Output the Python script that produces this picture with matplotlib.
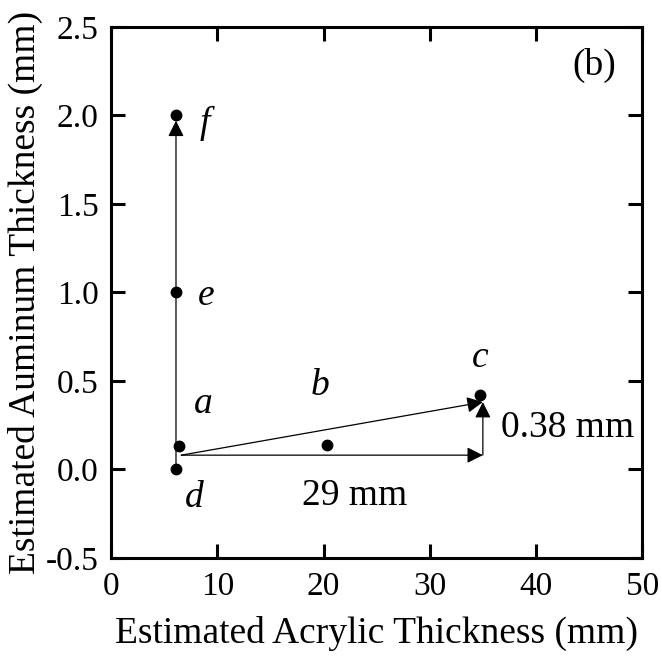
import matplotlib
matplotlib.use("Agg")
import matplotlib.pyplot as plt

plt.rcParams['font.family'] = ['Liberation Serif', 'DejaVu Serif']

# measured points (acrylic mm, aluminum mm)
labels = ['a', 'b', 'c', 'd', 'e', 'f']
acrylic = [6.4, 20.3, 34.7, 6.1, 6.1, 6.1]
aluminum = [0.13, 0.14, 0.42, 0.0, 1.0, 2.0]

# where the letter labels sit (baseline)
label_x = [8.7, 19.7, 34.7, 7.8, 8.9, 8.8]
label_y = [0.32, 0.42, 0.58, -0.215, 0.93, 1.90]

# arrows: (start, end)
arrows = [
    ((6.1, 0.0), (6.1, 1.97)),
    ((6.6, 0.08), (35.0, 0.08)),
    ((6.6, 0.08), (35.0, 0.38)),
    ((35.0, 0.08), (35.0, 0.38)),
]

xticks = [0, 10, 20, 30, 40, 50]
yticks = [-0.5, 0.0, 0.5, 1.0, 1.5, 2.0, 2.5]
ytick_labels = ['-0.5', '0.0', '0.5', '1.0', '1.5', '2.0', '2.5']

fig = plt.figure(figsize=(6.62, 6.57), dpi=100)
ax = fig.add_axes([0.168, 0.151, 0.802, 0.808])

for (x0, y0), (x1, y1) in arrows:
    ax.annotate('', xy=(x1, y1), xytext=(x0, y0),
                arrowprops=dict(arrowstyle='-|>', color='black', lw=0.9,
                                mutation_scale=24, shrinkA=0, shrinkB=0))

ax.plot(acrylic, aluminum, 'o', color='black', ms=7.5, zorder=5)

for lab, x, y in zip(labels, label_x, label_y):
    ax.text(x, y, lab, fontsize=27, style='italic', ha='center', va='baseline')

ax.text(22.9, -0.203, '29 mm', fontsize=27, ha='center', va='baseline')
ax.text(43.0, 0.184, '0.38 mm', fontsize=27, ha='center', va='baseline')
ax.text(45.5, 2.23, '(b)', fontsize=27, ha='center', va='baseline')

ax.set_xlim(0, 50)
ax.set_ylim(-0.5, 2.5)
ax.set_xticks(xticks)
ax.set_yticks(yticks)
ax.set_yticklabels(ytick_labels)
ax.tick_params(direction='in', length=10, width=2.2, labelsize=24,
               top=True, right=True)
ax.tick_params(axis='x', pad=10)
ax.tick_params(axis='y', pad=9)
for s in ax.spines.values():
    s.set_linewidth(2.2)

ax.set_xlabel('Estimated Acrylic Thickness (mm)', fontsize=27, labelpad=10)
ax.set_ylabel('Estimated Auminum Thickness (mm)', fontsize=27, labelpad=2)

fig.savefig('out.png', dpi=100)
